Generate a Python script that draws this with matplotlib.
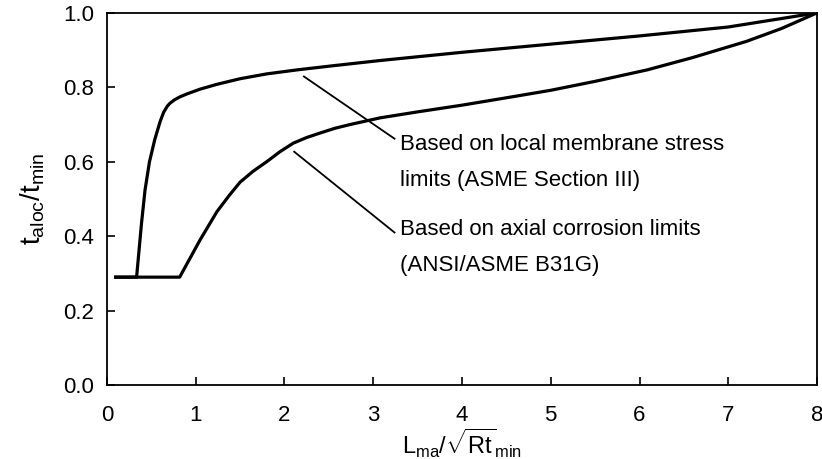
import matplotlib
matplotlib.use("Agg")
import matplotlib.pyplot as plt

plt.rcParams['font.family'] = ['Liberation Sans', 'DejaVu Sans']
plt.rcParams['mathtext.fontset'] = 'custom'
plt.rcParams['mathtext.rm'] = 'Liberation Sans'
plt.rcParams['mathtext.it'] = 'Liberation Sans:italic'
plt.rcParams['mathtext.bf'] = 'Liberation Sans:bold'

# local membrane stress limits (ASME Section III)
x_membrane = [0.1, 0.335, 0.39, 0.43, 0.48, 0.54, 0.60, 0.64, 0.68, 0.71, 0.76, 0.82,
              0.90, 1.05, 1.24, 1.50, 1.80, 2.15, 2.55, 3.08, 4.0, 5.0, 6.0, 7.0, 8.0]
y_membrane = [0.29, 0.29, 0.434, 0.524, 0.60, 0.66, 0.708, 0.733, 0.749, 0.757, 0.766,
              0.774, 0.782, 0.795, 0.808, 0.823, 0.836, 0.847, 0.858, 0.872, 0.894,
              0.916, 0.938, 0.962, 1.0]

# axial corrosion limits (ANSI/ASME B31G)
x_axial = [0.1, 0.82, 1.05, 1.24, 1.38, 1.50, 1.65, 1.80, 1.95, 2.10, 2.25, 2.40,
           2.57, 2.74, 3.08, 3.5, 4.0, 4.58, 5.0, 5.5, 6.09, 6.6, 7.2, 7.6, 8.0]
y_axial = [0.29, 0.29, 0.39, 0.466, 0.51, 0.545, 0.575, 0.60, 0.627, 0.65, 0.665,
           0.677, 0.69, 0.70, 0.718, 0.734, 0.752, 0.775, 0.792, 0.816, 0.847, 0.88,
           0.923, 0.958, 1.0]

# leader lines: (start x, start y, end x, end y)
leader_membrane = [2.22, 0.829, 3.24, 0.662]
leader_axial = [2.11, 0.627, 3.24, 0.41]

label_membrane = "Based on local membrane stress\nlimits (ASME Section III)"
label_axial = "Based on axial corrosion limits\n(ANSI/ASME B31G)"

x_ticks = [0, 1, 2, 3, 4, 5, 6, 7, 8]
y_ticks = [0.0, 0.2, 0.4, 0.6, 0.8, 1.0]

fig = plt.figure(figsize=(8.22, 4.59), dpi=100)
ax = fig.add_axes([0.130, 0.161, 0.864, 0.811])

ax.plot(x_membrane, y_membrane, color='black', lw=2.3, solid_joinstyle='round')
ax.plot(x_axial, y_axial, color='black', lw=2.3, solid_joinstyle='round')

ax.plot(leader_membrane[0::2], leader_membrane[1::2], color='black', lw=1.3)
ax.plot(leader_axial[0::2], leader_axial[1::2], color='black', lw=1.3)

ax.text(3.30, 0.597, label_membrane, fontsize=16, va='center', ha='left', linespacing=1.95)
ax.text(3.30, 0.370, label_axial, fontsize=16, va='center', ha='left', linespacing=1.95)

ax.set_xlim(0, 8)
ax.set_ylim(0, 1.0)
ax.set_xticks(x_ticks)
ax.set_yticks(y_ticks)
ax.set_yticklabels(['%.1f' % v for v in y_ticks])
ax.tick_params(direction='in', length=6, width=1.2, labelsize=16, top=False, right=False)
ax.tick_params(axis='x', pad=14)
ax.tick_params(axis='y', pad=9)

for s in ax.spines.values():
    s.set_linewidth(1.3)
    s.set_color('black')

ax.set_xlabel(r'$\mathregular{L_{ma}/\sqrt{Rt}_{min}}$', fontsize=17, labelpad=1)
ax.set_ylabel(r'$\mathregular{t_{aloc}/t_{min}}$', fontsize=20, labelpad=12)

fig.savefig('out.png', dpi=100)
